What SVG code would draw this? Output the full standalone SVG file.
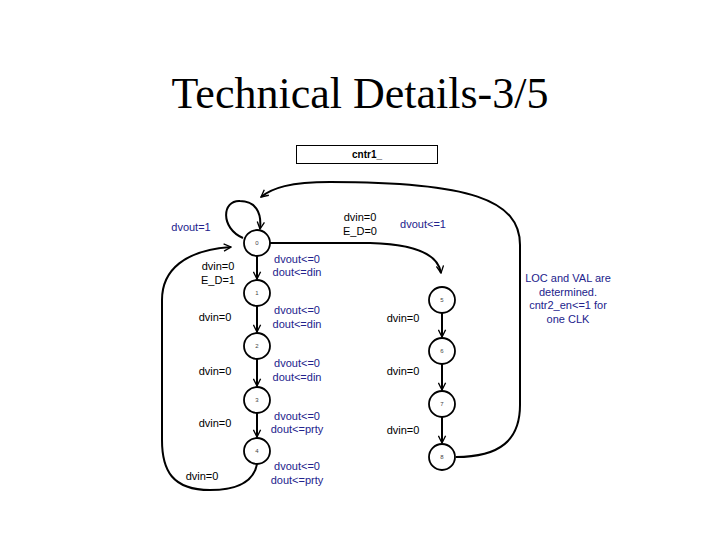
<svg xmlns="http://www.w3.org/2000/svg" width="720" height="540" viewBox="0 0 720 540">
<defs>
<marker id="ah" viewBox="0 0 10 10" refX="9" refY="5" markerWidth="9" markerHeight="9" orient="auto" markerUnits="userSpaceOnUse">
<path d="M1,1 L9,5 L1,9" fill="none" stroke="#000" stroke-width="1.5"/>
</marker>
<style>
.st{fill:#fff;stroke:#000;stroke-width:1.8}
.sn{font-family:"Liberation Sans",Arial,sans-serif;font-size:6px;fill:#444;text-anchor:middle}
.e{fill:none;stroke:#000;stroke-width:2}
.b{font-family:"Liberation Sans",Arial,sans-serif;font-size:11px;fill:#000;text-anchor:middle}
.u{font-family:"Liberation Sans",Arial,sans-serif;font-size:11px;fill:#22228c;text-anchor:middle}
</style>
</defs>
<rect width="720" height="540" fill="#fff"/>
<text x="360" y="108" font-family="Liberation Serif,'Times New Roman',serif" font-size="44" text-anchor="middle" fill="#000">Technical Details-3/5</text>
<g id="title-box">
<rect x="296.5" y="145.5" width="141" height="18" fill="#fff" stroke="#000" stroke-width="1"/>
<text x="367" y="158" font-family="Liberation Sans,Arial,sans-serif" font-size="10" font-weight="bold" text-anchor="middle">cntr1_</text>
</g>
<g id="connectors">
<path class="e" d="M243,238 C220,228 222,200 240,201 C255,201 262,212 260,229" marker-end="url(#ah)"/>
<path class="e" d="M456,457 C500,457 520,440 520,405 L520,245 C520,200 470,182 330,182 C290,182 272,188 261,197" marker-end="url(#ah)"/>
<path class="e" d="M270,243 L370,243 C410,244 438,252 441,273" marker-end="url(#ah)"/>
<path class="e" d="M257,464 C254,480 240,490 210,490 C172,490 162,470 162,440 L162,300 C162,270 185,250 231,247" marker-end="url(#ah)"/>
<path class="e" d="M257,256 L257,279" marker-end="url(#ah)"/>
<path class="e" d="M257,306 L257,332" marker-end="url(#ah)"/>
<path class="e" d="M257,359 L257,386" marker-end="url(#ah)"/>
<path class="e" d="M257,413 L257,437" marker-end="url(#ah)"/>
<path class="e" d="M442,313 L442,337" marker-end="url(#ah)"/>
<path class="e" d="M442,364 L442,390" marker-end="url(#ah)"/>
<path class="e" d="M442,417 L442,443" marker-end="url(#ah)"/>
</g>
<g id="s0"><circle class="st" cx="257" cy="243" r="13"/><text class="sn" x="257" y="245">0</text></g>
<g id="s1"><circle class="st" cx="257" cy="293" r="13"/><text class="sn" x="257" y="295">1</text></g>
<g id="s2"><circle class="st" cx="257" cy="346" r="13"/><text class="sn" x="257" y="348">2</text></g>
<g id="s3"><circle class="st" cx="257" cy="400" r="13"/><text class="sn" x="257" y="402">3</text></g>
<g id="s4"><circle class="st" cx="257" cy="451" r="13"/><text class="sn" x="257" y="453">4</text></g>
<g id="s5"><circle class="st" cx="442" cy="300" r="13"/><text class="sn" x="442" y="302">5</text></g>
<g id="s6"><circle class="st" cx="442" cy="351" r="13"/><text class="sn" x="442" y="353">6</text></g>
<g id="s7"><circle class="st" cx="442" cy="404" r="13"/><text class="sn" x="442" y="406">7</text></g>
<g id="s8"><circle class="st" cx="442" cy="457" r="13"/><text class="sn" x="442" y="459">8</text></g>
<g id="labels">
<text class="u" x="191" y="231">dvout=1</text>
<text class="b" x="360" y="221">dvin=0</text>
<text class="b" x="360" y="235">E_D=0</text>
<text class="u" x="423" y="228">dvout&lt;=1</text>
<text class="u" x="297" y="263">dvout&lt;=0</text>
<text class="u" x="297" y="276">dout&lt;=din</text>
<text class="b" x="218" y="270">dvin=0</text>
<text class="b" x="218" y="284">E_D=1</text>
<text class="b" x="215" y="321">dvin=0</text>
<text class="u" x="297" y="314">dvout&lt;=0</text>
<text class="u" x="297" y="328">dout&lt;=din</text>
<text class="b" x="215" y="375">dvin=0</text>
<text class="u" x="297" y="367">dvout&lt;=0</text>
<text class="u" x="297" y="381">dout&lt;=din</text>
<text class="b" x="215" y="427">dvin=0</text>
<text class="u" x="297" y="420">dvout&lt;=0</text>
<text class="u" x="297" y="433">dout&lt;=prty</text>
<text class="b" x="202" y="480">dvin=0</text>
<text class="u" x="297" y="470">dvout&lt;=0</text>
<text class="u" x="297" y="484">dout&lt;=prty</text>
<text class="b" x="403" y="322">dvin=0</text>
<text class="b" x="403" y="375">dvin=0</text>
<text class="b" x="403" y="434">dvin=0</text>
<text class="u" x="568" y="282">LOC and VAL are</text>
<text class="u" x="568" y="296">determined.</text>
<text class="u" x="568" y="309">cntr2_en&lt;=1 for</text>
<text class="u" x="568" y="323">one CLK</text>
</g>
</svg>
